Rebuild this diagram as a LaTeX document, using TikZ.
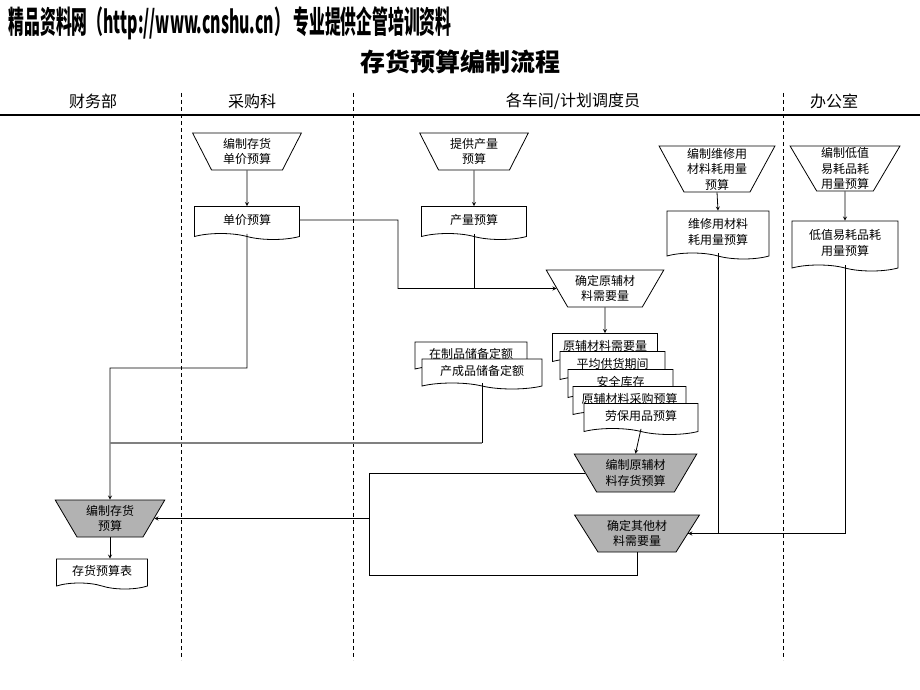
\documentclass[tikz,border=0pt]{standalone}
\usepackage{fontspec}
\setmainfont{Noto Sans CJK SC}
\usepackage{graphicx}
\usetikzlibrary{shapes.geometric,shapes.symbols}

\begin{document}
\begin{tikzpicture}[x=1pt, y=-1pt, line width=0.8pt, >=stealth,
  procBox/.style={draw, fill=white, trapezium, trapezium angle=#1, shape border rotate=180, trapezium stretches=true, align=center, inner sep=1pt, font=\fontsize{12}{15.5}\selectfont},
  procBox/.default=60,
  grayProc/.style={procBox=#1, fill=gray!60},
  grayProc/.default=58,
  docBox/.style={draw, fill=white, tape, tape bend top=none, tape bend bottom=out and in, tape bend height=6pt, align=center, inner sep=1pt, font=\fontsize{12}{15.5}\selectfont},
  laneLine/.style={dash pattern=on 4pt off 3pt, line width=0.7pt},
  laneName/.style={font=\fontsize{16}{16}\selectfont}]
\useasboundingbox (0,0) rectangle (920,690);

% heading and swim lanes
\node[anchor=west, font=\fontsize{31}{31}\selectfont\bfseries] (siteHead) at (5,23) {\scalebox{0.51}[1]{精品资料网（http://www.cnshu.cn） 专业提供企管培训资料}};
\node[font=\fontsize{25}{25}\selectfont\bfseries] (chartTitle) at (460,62) {存货预算编制流程};
\node[laneName] (financeLane) at (93,101) {财务部};
\node[laneName] (purchaseLane) at (252,101) {采购科};
\node[laneName] (workshopLane) at (573,101) {各车间/计划调度员};
\node[laneName] (officeLane) at (834,101) {办公室};
\draw[line width=1.1pt] (0,115) -- (920,115);
\draw[laneLine] (181,93) -- (181,660);
\draw[laneLine] (353,93) -- (353,660);
\draw[laneLine] (783,93) -- (783,660);

% first row
\node[procBox=65, minimum width=109pt, minimum height=37pt] (priceProc) at (247,151.5) {编制存货\\单价预算};
\node[docBox, minimum width=105pt, minimum height=33pt] (priceDoc) at (247,220) {单价预算};
\node[procBox=65, minimum width=109pt, minimum height=37pt] (outputProc) at (474,151.5) {提供产量\\预算};
\node[docBox, minimum width=105pt, minimum height=33pt] (outputDoc) at (474,220) {产量预算};
\node[procBox=62, minimum width=116pt, minimum height=46pt] (repairProc) at (717,169) {编制维修用\\材料耗用量\\预算};
\node[docBox, minimum width=102pt, minimum height=48pt] (repairDoc) at (718,232) {维修用材料\\耗用量预算};
\node[procBox=62, minimum width=110pt, minimum height=45pt] (lowValProc) at (845,168.5) {编制低值\\易耗品耗\\用量预算};
\node[docBox, minimum width=106pt, minimum height=50pt] (lowValDoc) at (845,243) {低值易耗品耗\\用量预算};

% material need
\node[procBox=58, minimum width=118pt, minimum height=37pt] (matNeedProc) at (605,288.5) {确定原辅材\\料需要量};
\node[docBox, minimum width=105pt, minimum height=31pt] (needDoc) at (605,346) {原辅材料需要量};
\node[docBox, minimum width=105pt, minimum height=31pt] (leadDoc) at (612.5,364) {平均供货期间};
\node[docBox, minimum width=105pt, minimum height=31pt] (safetyDoc) at (620.5,382) {安全库存};
\node[docBox, minimum width=113pt, minimum height=31pt] (buyDoc) at (629.5,399) {原辅材料采购预算};
\node[docBox, minimum width=114pt, minimum height=31pt] (laborDoc) at (641,416) {劳保用品预算};
\node[docBox, minimum width=112pt, minimum height=30pt] (wipDoc) at (471,354) {在制品储备定额};
\node[docBox, minimum width=120pt, minimum height=30pt] (finishedDoc) at (482,371) {产成品储备定额};

% gray steps
\node[grayProc=58, minimum width=123pt, minimum height=38pt] (matInvProc) at (635.5,473) {编制原辅材\\料存货预算};
\node[grayProc=57, minimum width=126pt, minimum height=37pt] (otherProc) at (637,533.5) {确定其他材\\料需要量};
\node[grayProc=60, minimum width=110pt, minimum height=37pt] (invProc) at (110,518.5) {编制存货\\预算};
\node[docBox, minimum width=91pt, minimum height=30pt] (invDoc) at (102,571) {存货预算表};

% connectors
\coordinate (bendA) at (398,288.5);
\coordinate (leftTurn) at (110,368);
\coordinate (stockTurn) at (110,443);
\coordinate (loopBottom) at (369,575);
\draw[->] (priceProc.south) -- (priceDoc.north);
\draw[->] (outputProc.south) -- (outputDoc.north);
\draw[->] (repairProc.south) -- (repairDoc.north);
\draw[->] (lowValProc.south) -- (lowValDoc.north);
\draw[->] (priceDoc.east) -| (bendA) -- (matNeedProc.west);
\draw (outputDoc.south) -- (outputDoc.south |- bendA);
\draw[->] (matNeedProc.south) -- (needDoc.north);
\draw[->] (priceDoc.south) |- (leftTurn) -- (invProc.north);
\draw (finishedDoc.south) -- (finishedDoc.south |- stockTurn);
\draw[gray, line width=1.6pt] (finishedDoc.south |- stockTurn) -- (stockTurn);
\draw[->] (laborDoc.south) -- (matInvProc.north);
\draw (matInvProc.west) -| (loopBottom) -| (otherProc.south);
\draw[->] (loopBottom |- invProc.east) -- (invProc.east);
\draw[->] (repairDoc.south) |- (otherProc.east);
\draw (lowValDoc.south) |- (otherProc.east);
\draw[->] (invProc.south) -- (invDoc.north -| invProc.south);
\end{tikzpicture}
\end{document}
